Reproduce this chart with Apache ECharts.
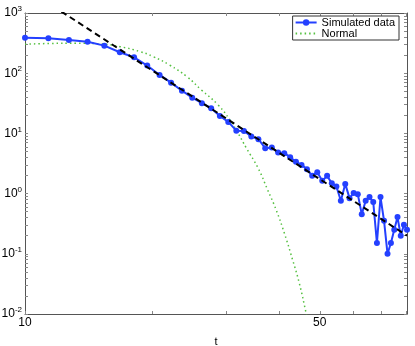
<!DOCTYPE html>
<html>
<head>
<meta charset="utf-8">
<script src="https://cdn.jsdelivr.net/npm/echarts@6/dist/echarts.min.js"></script>
<style>
  html, body { margin: 0; padding: 0; background: #fff; }
  #chart { width: 415px; height: 346px; }
</style>
</head>
<body>
<div id="chart"></div>
<script>
// simulated data (t, count)
var simT = [10.0, 11.36, 12.71, 14.07, 15.42, 16.78, 18.14, 19.49, 20.85, 22.2,
  23.56, 24.92, 26.27, 27.63, 28.98, 30.34, 31.7, 33.05, 34.41, 35.76,
  37.12, 38.48, 39.83, 41.19, 42.54, 43.9, 45.26, 46.61, 47.97, 49.32,
  50.68, 52.04, 53.39, 54.75, 56.1, 57.46, 58.82, 60.17, 61.53, 62.88,
  64.24, 65.6, 66.95, 68.31, 69.66, 71.02, 72.38, 73.73, 75.09, 76.44,
  77.8, 79.16, 80.5];
var simValues = [389, 380, 356, 333, 287, 223, 184, 134, 93.6, 69.7,
  51.2, 39.2, 31.7, 26.2, 19.5, 15.5, 11.1, 11.0, 8.86, 8.02,
  5.69, 5.82, 4.81, 4.7, 4.03, 3.37, 3.0, 2.55, 1.97, 2.27,
  1.63, 1.97, 1.49, 1.31, 0.759, 1.45, 0.841, 1.02, 0.98, 0.456,
  0.759, 0.875, 0.723, 0.151, 0.875, 0.353, 0.1, 0.151, 0.251, 0.407,
  0.199, 0.303, 0.251];
// normal fit
var normalT = [10.0, 11.5, 13.2, 15.1, 16.8, 18.75, 20.15, 22.0, 24.2, 26.2,
  28.7, 30.6, 32.0, 33.5, 35.7, 37.6, 39.4, 41.2, 43.1, 44.7, 46.4, 47.5];
var normalValues = [303, 312, 315, 306, 276, 228, 188, 137, 87.7, 52.7,
  29.7, 16.8, 10.1, 5.69, 2.65, 1.16, 0.538, 0.221, 0.0796, 0.0327, 0.0104, 0.005];
// power law line
var fitT = [12.2, 80.5];
var fitValues = [1056, 0.2];

var xLabelValues = [10, 50];
var xTickValues = [10, 20, 30, 40, 50, 60, 70, 80];
var yTickValues = [];
for (var e = -2; e <= 2; e++) {
  for (var m = 1; m <= 9; m++) yTickValues.push(+(m * Math.pow(10, e)).toPrecision(3));
}
yTickValues.push(1000);
var yLabelValues = [0.01, 0.1, 1, 10, 100, 1000];

function pairs(xs, ys) {
  return xs.map(function (x, i) { return [x, ys[i]]; });
}

var font = 'Liberation Sans';
var frameColor = '#555';

var myChart = echarts.init(document.getElementById('chart'));
myChart.setOption({
  animation: false,
  textStyle: { fontFamily: font },
  grid: { left: 25, right: 8, top: 13, bottom: 32, containLabel: false, outerBoundsMode: 'none' },
  legend: {
    data: ['Simulated data', { name: 'Normal', itemStyle: { opacity: 0 } }],
    orient: 'vertical',
    right: 16,
    top: 16,
    backgroundColor: '#fff',
    borderColor: '#333',
    borderWidth: 1,
    borderRadius: 0,
    padding: [1, 4, 1, 2],
    itemGap: 0,
    itemWidth: 21,
    itemHeight: 8,
    textStyle: { color: '#000', fontSize: 11, fontFamily: font, padding: [2, 0, 1, 0] }
  },
  xAxis: [{
    type: 'log',
    logBase: 10,
    min: 10,
    max: 80.5,
    name: 't',
    nameLocation: 'middle',
    nameGap: 22,
    nameTextStyle: { color: '#000', fontSize: 11 },
    axisLine: { lineStyle: { color: frameColor } },
    axisTick: { inside: true, length: 3, customValues: xTickValues, lineStyle: { color: '#888' } },
    axisLabel: { customValues: xLabelValues, color: '#000', fontSize: 12, margin: 3 },
    splitLine: { show: false },
    minorTick: { show: false }
  }, {
    type: 'log',
    position: 'top',
    min: 10,
    max: 80.5,
    axisLine: { lineStyle: { color: frameColor } },
    axisTick: { inside: true, length: 3, customValues: xTickValues, lineStyle: { color: '#888' } },
    axisLabel: { show: false },
    splitLine: { show: false }
  }],
  yAxis: [{
    type: 'log',
    logBase: 10,
    min: 0.01,
    max: 1000,
    axisLine: { show: true, lineStyle: { color: frameColor } },
    axisTick: { show: true, inside: true, length: 3, customValues: yTickValues, lineStyle: { color: '#888' } },
    axisLabel: {
      customValues: yLabelValues,
      color: '#000',
      fontSize: 12,
      margin: 3,
      formatter: function (v) {
        return '10{sup|' + Math.round(Math.log10(v)) + '}';
      },
      rich: { sup: { fontSize: 8, verticalAlign: 'top', padding: [0, 0, 8, 0], color: '#000' } }
    },
    splitLine: { show: false }
  }, {
    type: 'log',
    position: 'right',
    min: 0.01,
    max: 1000,
    axisLine: { show: true, lineStyle: { color: frameColor } },
    axisTick: { show: true, inside: true, length: 3, customValues: yTickValues, lineStyle: { color: '#888' } },
    axisLabel: { show: false },
    splitLine: { show: false }
  }],
  series: [{
    name: 'Normal',
    type: 'line',
    data: pairs(normalT, normalValues),
    smooth: true,
    showSymbol: false,
    symbol: 'none',
    lineStyle: { color: '#55c040', width: 1.5, type: [1.5, 3] },
    itemStyle: { color: '#55c040' },
    z: 2
  }, {
    name: 'Simulated data',
    type: 'line',
    data: pairs(simT, simValues),
    symbol: 'circle',
    symbolSize: 6,
    lineStyle: { color: '#2440ff', width: 2 },
    itemStyle: { color: '#2440ff' },
    z: 3
  }, {
    name: 'fit',
    type: 'line',
    data: pairs(fitT, fitValues),
    symbol: 'none',
    lineStyle: { color: '#000', width: 2, type: [6, 4] },
    z: 4
  }]
});
</script>
</body>
</html>
